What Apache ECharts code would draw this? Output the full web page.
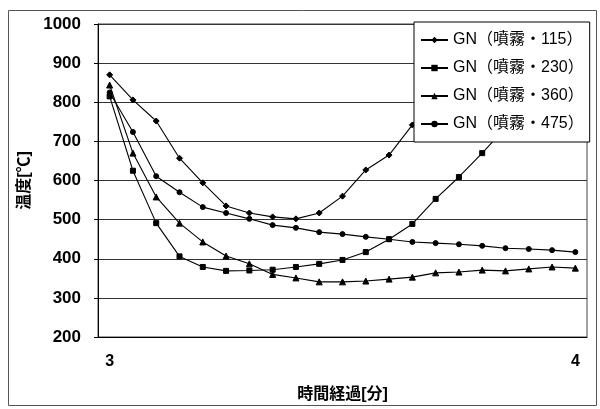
<!DOCTYPE html>
<html>
<head>
<meta charset="utf-8">
<script src="https://cdn.jsdelivr.net/npm/echarts@6/dist/echarts.min.js"></script>
<style>
  html, body { margin: 0; padding: 0; background: #fff; }
  #chart { width: 600px; height: 409px; }
</style>
</head>
<body>
<div id="chart"></div>
<script>
// Time axis: 21 sampling points between minute 3 and minute 4
const timeLabels = ['3', '', '', '', '', '', '', '', '', '', '', '', '', '', '', '', '', '', '', '', '4'];

// Temperature readings [°C] per spray condition
const gn115 = [870, 806, 752, 657, 594, 535, 517, 507, 502, 517, 560, 627, 665, 742, 815, 880, 940, 985, null, null, null];
const gn230 = [815, 625, 491, 406, 379, 369, 370, 372, 379, 387, 397, 417, 450, 489, 553, 609, 670, 735, 795, 850, 900];
const gn360 = [844, 670, 558, 491, 443, 407, 387, 360, 351, 341, 341, 343, 348, 353, 364, 366, 371, 369, 374, 379, 376];
const gn475 = [825, 724, 611, 570, 532, 517, 502, 486, 479, 468, 463, 456, 450, 443, 440, 437, 433, 427, 425, 422, 417];

const seriesNames = ['GN（噴霧・115）', 'GN（噴霧・230）', 'GN（噴霧・360）', 'GN（噴霧・475）'];
const seriesData = [gn115, gn230, gn360, gn475];
const seriesSymbols = ['diamond', 'rect', 'triangle', 'circle'];
const seriesSymbolSizes = [6, 5, 6, 5];

const FONT = '"Liberation Sans", "Noto Sans CJK JP", sans-serif';

const chart = echarts.init(document.getElementById('chart'), null, { renderer: 'canvas' });

chart.setOption({
  backgroundColor: '#fff',
  animation: false,
  graphic: [{
    type: 'rect',
    shape: { x: 8.5, y: 10.5, width: 588, height: 395 },
    style: { fill: 'none', stroke: '#555', lineWidth: 1 },
    z: 0
  }],
  grid: {
    left: 98, right: 13, top: 24, bottom: 72,
    show: true, borderColor: '#444', borderWidth: 1
  },
  legend: {
    orient: 'vertical',
    left: 414, top: 22,
    padding: [10, 6, 10, 6],
    itemGap: 12,
    itemWidth: 27, itemHeight: 8,
    backgroundColor: '#fff',
    borderColor: '#000', borderWidth: 1,
    textStyle: { fontSize: 16, color: '#000', fontFamily: FONT },
    data: seriesNames
  },
  xAxis: {
    type: 'category',
    data: timeLabels,
    boundaryGap: true,
    axisLine: { lineStyle: { color: '#000', width: 1 } },
    axisTick: { show: false },
    axisLabel: { interval: 0, color: '#000', fontSize: 16, fontWeight: 'bold', fontFamily: FONT, margin: 17 },
    splitLine: { show: false },
    name: '時間経過[分]',
    nameLocation: 'middle',
    nameGap: 50,
    nameTextStyle: { color: '#000', fontSize: 16, fontWeight: 'bold', fontFamily: FONT }
  },
  yAxis: {
    type: 'value',
    min: 200, max: 1000, interval: 100,
    axisLine: { show: true, lineStyle: { color: '#000', width: 1 } },
    axisTick: { show: true, length: 4, lineStyle: { color: '#000' } },
    axisLabel: {
      color: '#000', fontSize: 17, fontWeight: 'bold', fontFamily: FONT, margin: 17,
      formatter: (v) => String(v)
    },
    splitLine: { show: true, lineStyle: { color: '#333', width: 1 } },
    name: '温度[℃]',
    nameLocation: 'middle',
    nameRotate: 90,
    nameGap: 63,
    nameTextStyle: { color: '#000', fontSize: 16, fontWeight: 'bold', fontFamily: FONT }
  },
  series: seriesNames.map((name, i) => ({
    name: name,
    type: 'line',
    data: seriesData[i],
    symbol: seriesSymbols[i],
    symbolSize: seriesSymbolSizes[i],
    showAllSymbol: true,
    connectNulls: false,
    lineStyle: { color: '#000', width: 1.1 },
    itemStyle: { color: '#000', borderColor: '#000' },
    emphasis: { disabled: true }
  }))
});
</script>
</body>
</html>
